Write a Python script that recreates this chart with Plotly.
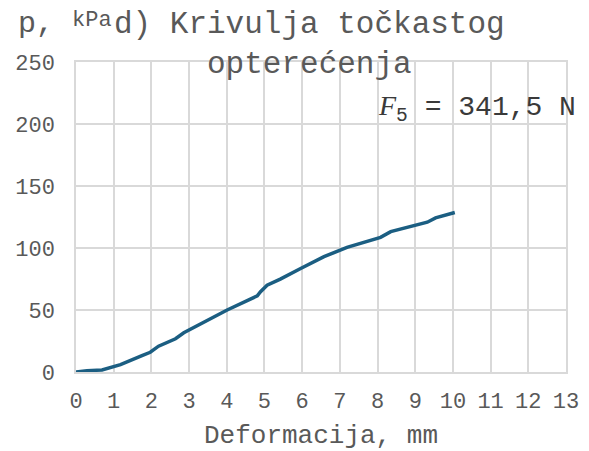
import plotly.graph_objects as go

deformation_mm = [0.0, 0.29, 0.69, 1.18, 1.75, 1.97, 2.19, 2.64, 2.86, 3.30, 4.01, 4.81, 4.89, 5.07,
                  5.42, 5.96, 6.58, 7.19, 8.08, 8.35, 8.96, 9.32, 9.54, 10.05]
pressure_kpa = [0.0, 1.1, 1.6, 5.9, 13.2, 15.9, 20.8, 26.8, 31.6, 38.4, 50.0, 61.4, 64.6, 70.0,
                74.9, 83.5, 93.0, 100.5, 108.6, 113.2, 118.1, 120.8, 124.3, 128.6]

x_ticks = list(range(0, 14))
y_ticks = [0, 50, 100, 150, 200, 250]

MONO = "Liberation Mono, Courier New, monospace"
GRAY = "#595959"
GRID = "#d9d9d9"

# the page body has an 8px default margin, so the figure starts at (8, 8)
OFF = 8
FW, FH = 589 - OFF, 451 - OFF
# plot area in page pixels: x 75.7..566, y 61.7..372.3
L, R, T, B = 75.7 - OFF, 566.0 - OFF, 61.7 - OFF, 372.3 - OFF
W, H = R - L, B - T
def px(x):
    return (x - OFF - L) / W
def py(y):
    return (B - (y - OFF)) / H

fig = go.Figure()
fig.add_trace(go.Scatter(x=deformation_mm, y=pressure_kpa, mode="lines",
                         line=dict(color="#1b5e82", width=3.5), hoverinfo="skip"))

fig.update_layout(
    width=FW, height=FH,
    margin=dict(l=L, r=FW - R, t=T, b=FH - B, pad=0, autoexpand=False),
    paper_bgcolor="white", plot_bgcolor="white",
    showlegend=False,
    xaxis=dict(range=[0, 13], tickvals=x_ticks, showgrid=True, gridcolor=GRID, gridwidth=1.5,
               zeroline=False, showline=True, linecolor=GRID, linewidth=1.5, mirror=True,
               automargin=False,
               ticks="", tickfont=dict(family=MONO, size=22, color=GRAY), ticklabelstandoff=8,
               title=dict(text="Deformacija, mm", font=dict(family=MONO, size=26, color=GRAY), standoff=13)),
    yaxis=dict(range=[0, 250], tickvals=y_ticks, showgrid=True, gridcolor=GRID, gridwidth=1.5,
               zeroline=False, showline=True, linecolor=GRID, linewidth=1.5, mirror=True,
               automargin=False,
               ticks="", tickfont=dict(family=MONO, size=22, color=GRAY), ticklabelstandoff=15),
    annotations=[
        dict(text="d) Krivulja točkastog<br>opterećenja", xref="paper", yref="paper",
             x=px(309), y=py(44), xanchor="center", yanchor="middle", showarrow=False,
             font=dict(family=MONO, size=31, color=GRAY)),
        dict(text="p,", xref="paper", yref="paper", x=px(16), y=py(24), xanchor="left",
             yanchor="middle", showarrow=False, font=dict(family=MONO, size=30, color=GRAY)),
        dict(text="kPa", xref="paper", yref="paper", x=px(70), y=py(20), xanchor="left",
             yanchor="middle", showarrow=False, font=dict(family=MONO, size=22, color=GRAY)),
        dict(text="<span style='font-family:Liberation Serif, Times New Roman, serif'><i>F</i></span><sub>5</sub> = 341,5 N",
             xref="paper", yref="paper", x=px(578), y=py(108), xanchor="right", yanchor="middle",
             showarrow=False, font=dict(family=MONO, size=28, color="#3a3a3a")),
    ],
)

fig.write_html("out.html")
